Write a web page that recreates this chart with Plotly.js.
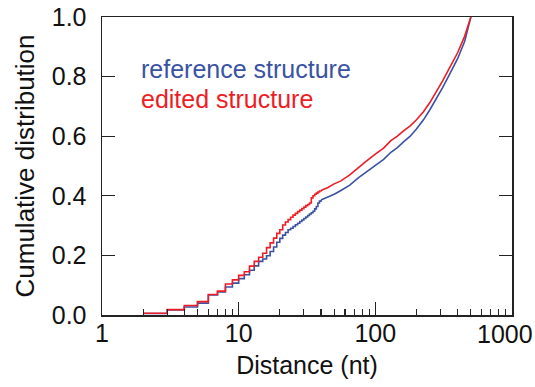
<!DOCTYPE html>
<html>
<head>
<meta charset="utf-8">
<script src="https://cdn.plot.ly/plotly-3.0.1.min.js"></script>
<style>html,body{margin:0;padding:0;background:#fff;}#chart{width:535px;height:387px;}</style>
</head>
<body>
<div id="chart"></div>
<script>
// Step region (integer distances, nt)
const stepDistance = [2,3,4,5,6,7,8,9,10,11,12,13,14,15,16,17,18,19,20,21,22,23,24,25,26,27,28,29,30,31,32,33,34,35,36,37,38,39,40];
const stepReference = [0.005,0.017,0.027,0.040,0.067,0.077,0.094,0.107,0.122,0.135,0.150,0.165,0.180,0.188,0.199,0.213,0.228,0.244,0.257,0.268,0.277,0.286,0.291,0.297,0.303,0.308,0.314,0.319,0.324,0.329,0.334,0.339,0.343,0.348,0.356,0.364,0.376,0.382,0.386];
const stepEdited    = [0.006,0.018,0.032,0.045,0.069,0.080,0.104,0.118,0.133,0.145,0.164,0.180,0.194,0.207,0.226,0.242,0.258,0.274,0.286,0.302,0.312,0.320,0.328,0.335,0.341,0.347,0.352,0.357,0.362,0.367,0.371,0.376,0.393,0.400,0.405,0.409,0.413,0.416,0.418];
// Dense region (many distinct distances, drawn continuous)
const tailDistance  = [40,45,50,56,65,75,85,100,115,130,145,160,180,200,225,250,280,310,350,400,450,495,500];
const tailReference = [0.386,0.395,0.405,0.418,0.436,0.460,0.478,0.502,0.522,0.546,0.562,0.580,0.600,0.624,0.655,0.688,0.725,0.762,0.808,0.860,0.918,0.990,1.0];
const tailEdited    = [0.418,0.428,0.440,0.450,0.470,0.495,0.515,0.540,0.560,0.585,0.600,0.617,0.635,0.655,0.682,0.712,0.748,0.785,0.830,0.880,0.935,1.0,1.0];

const seriesNames = ['reference structure','edited structure'];
const xTickVals = [1,10,100,1000];
const xTickText = ['1','10','100',''];   // '1000' is drawn below as an annotation, nudged inside the page
const lastXTick = '1000';
const yTickVals = [0,0.2,0.4,0.6,0.8,1.0];
const blue = '#3a52a3', red = '#ee1c25';
const font = 'Liberation Sans, Arial, sans-serif';
const fs = 25;

const traces = [
  {x: stepDistance, y: stepReference, mode:'lines', line:{color:blue, width:1.6, shape:'hv'}, showlegend:false},
  {x: tailDistance, y: tailReference, mode:'lines', line:{color:blue, width:1.6}, showlegend:false},
  {x: stepDistance, y: stepEdited, mode:'lines', line:{color:red, width:1.6, shape:'hv'}, showlegend:false},
  {x: tailDistance, y: tailEdited, mode:'lines', line:{color:red, width:1.6}, showlegend:false}
];

const minorVals = [];
[1,10,100].forEach(d => { for (let k=2;k<=9;k++) minorVals.push(k*d); });

const xCommon = {
  type:'log', range:[0,3], tickvals:xTickVals, ticktext:xTickText,
  ticks:'inside', ticklen:13, tickwidth:1.3, tickcolor:'#222',
  minor:{tickvals:minorVals, ticks:'inside', ticklen:6, tickwidth:1.1, tickcolor:'#222', showgrid:false},
  showgrid:false, zeroline:false
};

const layout = {
  width:535, height:387,
  margin:{l:102, r:23, t:17, b:72},
  paper_bgcolor:'#fff', plot_bgcolor:'#fff',
  font:{family:font, size:fs, color:'#111'},
  showlegend:false,
  xaxis:Object.assign({}, xCommon, {
    showline:true, linecolor:'#222', linewidth:1.5, mirror:true,
    ticklabelstandoff:-5,
    title:{text:'Distance (nt)', font:{size:fs}, standoff:11}
  }),
  xaxis2:Object.assign({}, xCommon, {
    overlaying:'x', side:'top', anchor:'y', showticklabels:false, showline:false
  }),
  yaxis:{
    range:[0,1], tickvals:yTickVals, tickformat:'.1f',
    ticks:'inside', ticklen:13, tickwidth:1.3, tickcolor:'#222',
    showline:true, linecolor:'#222', linewidth:1.5, mirror:'ticks',
    showgrid:false, zeroline:false, ticklabelstandoff:9,
    title:{text:'Cumulative distribution', font:{size:26}, standoff:9}
  },
  annotations:[
    {xref:'paper', yref:'paper', x:0.09, y:0.825, xanchor:'left', yanchor:'middle', showarrow:false, text:seriesNames[0], font:{family:font, size:fs, color:blue}},
    {xref:'paper', yref:'paper', x:0.09, y:0.724, xanchor:'left', yanchor:'middle', showarrow:false, text:seriesNames[1], font:{family:font, size:fs, color:red}},
    {xref:'x', yref:'paper', x:Math.log10(1000), y:0, xanchor:'center', yanchor:'top', xshift:-7, yshift:-3, showarrow:false, text:lastXTick, font:{family:font, size:fs, color:'#111'}}
  ]
};

Plotly.newPlot('chart', traces, layout, {staticPlot:true, displayModeBar:false});
</script>
</body>
</html>
